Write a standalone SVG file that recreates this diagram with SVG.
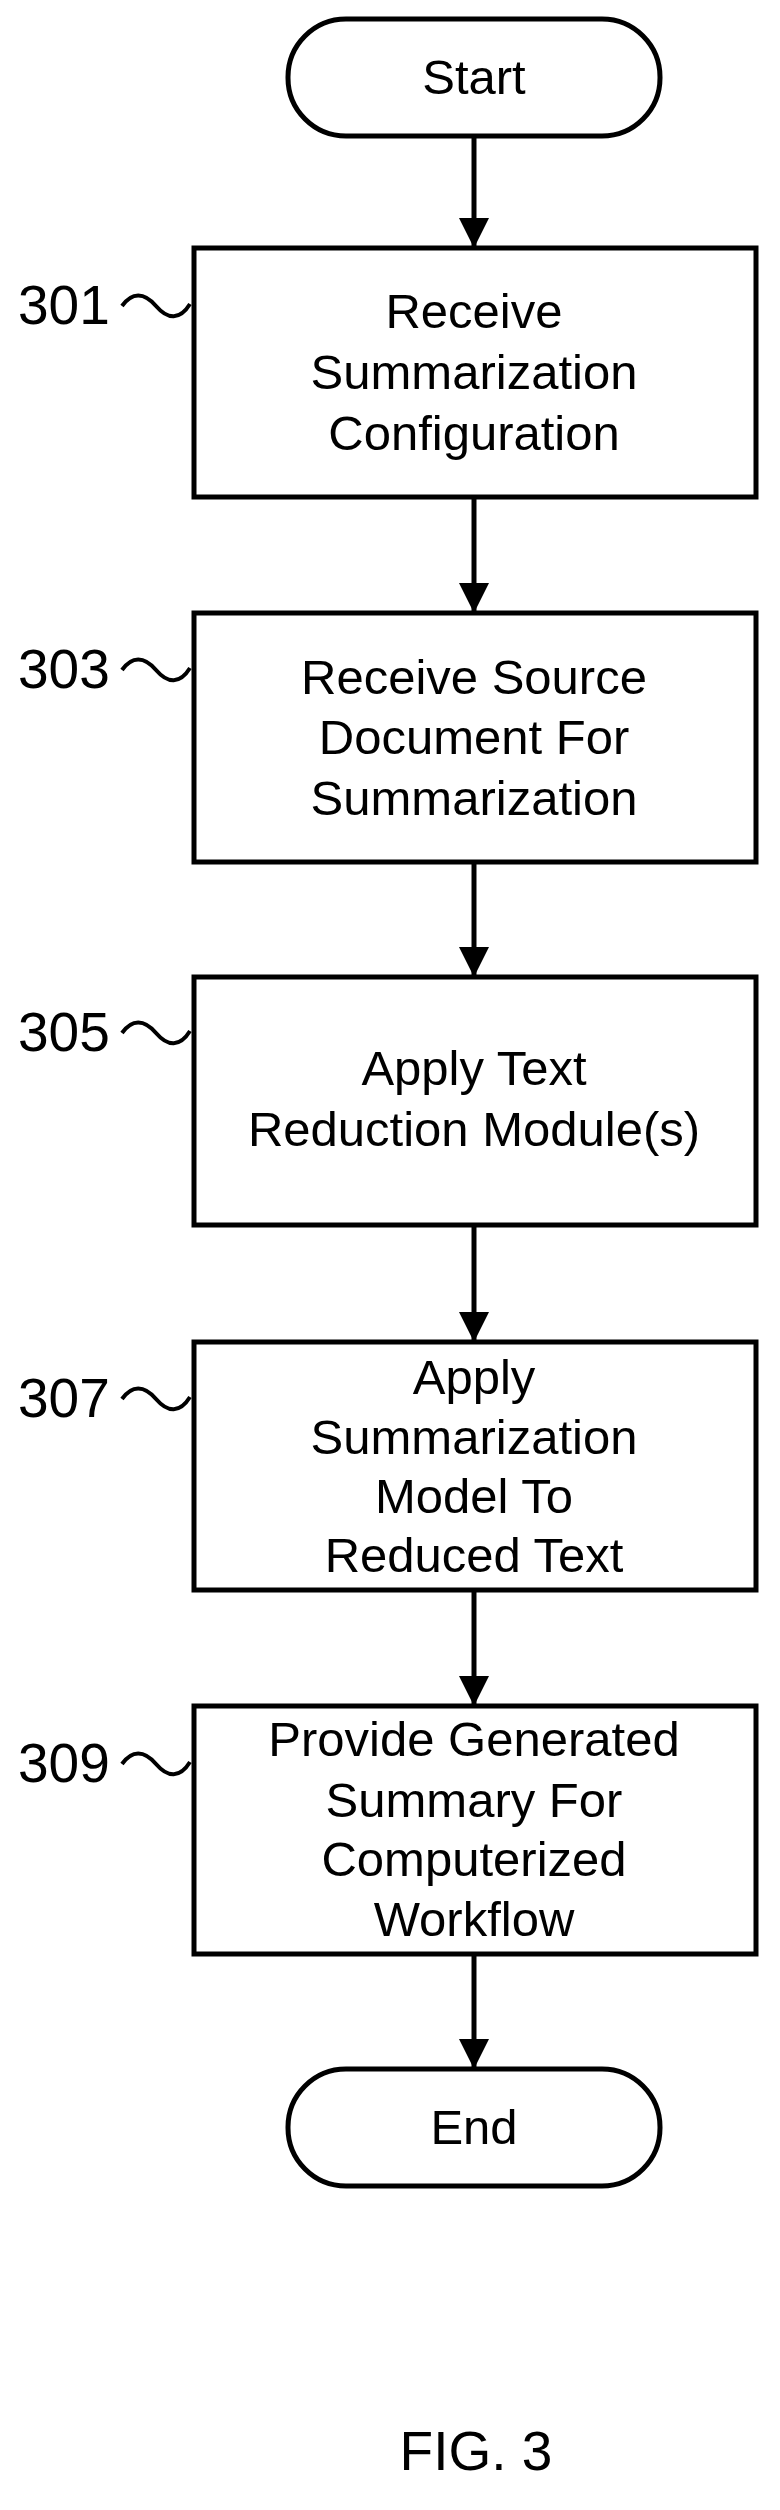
<svg xmlns="http://www.w3.org/2000/svg" width="780" height="2510" viewBox="0 0 780 2510">
<style>
.b{fill:#fff;stroke:#000;stroke-width:5}
.t{font-family:"Liberation Sans",Arial,sans-serif;font-size:49px;text-anchor:middle;fill:#000}
.l{font-family:"Liberation Sans",Arial,sans-serif;font-size:55px;fill:#000}
.c{fill:none;stroke:#000;stroke-width:5}
.s{fill:none;stroke:#000;stroke-width:4}
</style>
<defs>
<marker id="ah" viewBox="0 0 10 10" refX="10" refY="5" markerWidth="30" markerHeight="30" markerUnits="userSpaceOnUse" orient="auto"><path d="M0,0L10,5L0,10z" fill="#000"/></marker></defs>
<g id="connectors">
<line class="c" x1="474" y1="136" x2="474" y2="248" marker-end="url(#ah)"/>
<line class="c" x1="474" y1="497" x2="474" y2="613" marker-end="url(#ah)"/>
<line class="c" x1="474" y1="862" x2="474" y2="977" marker-end="url(#ah)"/>
<line class="c" x1="474" y1="1225" x2="474" y2="1342" marker-end="url(#ah)"/>
<line class="c" x1="474" y1="1590" x2="474" y2="1706" marker-end="url(#ah)"/>
<line class="c" x1="474" y1="1954" x2="474" y2="2069" marker-end="url(#ah)"/>
</g>
<g id="start"><rect class="b" x="288" y="19" width="372" height="117" rx="58"/><text class="t" x="474" y="94">Start</text></g>
<g id="n301"><rect class="b" x="194" y="248" width="562" height="249"/><text class="t" x="474" y="328">Receive</text><text class="t" x="474" y="389">Summarization</text><text class="t" x="474" y="450">Configuration</text>
<text class="l" x="18" y="324">301</text><path class="s" d="M122,306c10,-14 22,-14 34,0s24,14 34,-2"/></g>
<g id="n303"><rect class="b" x="194" y="613" width="562" height="249"/><text class="t" x="474" y="694">Receive Source</text><text class="t" x="474" y="754">Document For</text><text class="t" x="474" y="815">Summarization</text>
<text class="l" x="18" y="688">303</text><path class="s" d="M122,670c10,-14 22,-14 34,0s24,14 34,-2"/></g>
<g id="n305"><rect class="b" x="194" y="977" width="562" height="248"/><text class="t" x="474" y="1085">Apply Text</text><text class="t" x="474" y="1146">Reduction Module(s)</text>
<text class="l" x="18" y="1051">305</text><path class="s" d="M122,1033c10,-14 22,-14 34,0s24,14 34,-2"/></g>
<g id="n307"><rect class="b" x="194" y="1342" width="562" height="248"/><text class="t" x="474" y="1394">Apply</text><text class="t" x="474" y="1454">Summarization</text><text class="t" x="474" y="1513">Model To</text><text class="t" x="474" y="1572">Reduced Text</text>
<text class="l" x="18" y="1417">307</text><path class="s" d="M122,1399c10,-14 22,-14 34,0s24,14 34,-2"/></g>
<g id="n309"><rect class="b" x="194" y="1706" width="562" height="248"/><text class="t" x="474" y="1756">Provide Generated</text><text class="t" x="474" y="1817">Summary For</text><text class="t" x="474" y="1876">Computerized</text><text class="t" x="474" y="1936">Workflow</text>
<text class="l" x="18" y="1782">309</text><path class="s" d="M122,1764c10,-14 22,-14 34,0s24,14 34,-2"/></g>
<g id="end"><rect class="b" x="288" y="2069" width="372" height="117" rx="58"/><text class="t" x="474" y="2144">End</text></g>
<text class="l" x="476" y="2470" text-anchor="middle">FIG. 3</text>
</svg>
